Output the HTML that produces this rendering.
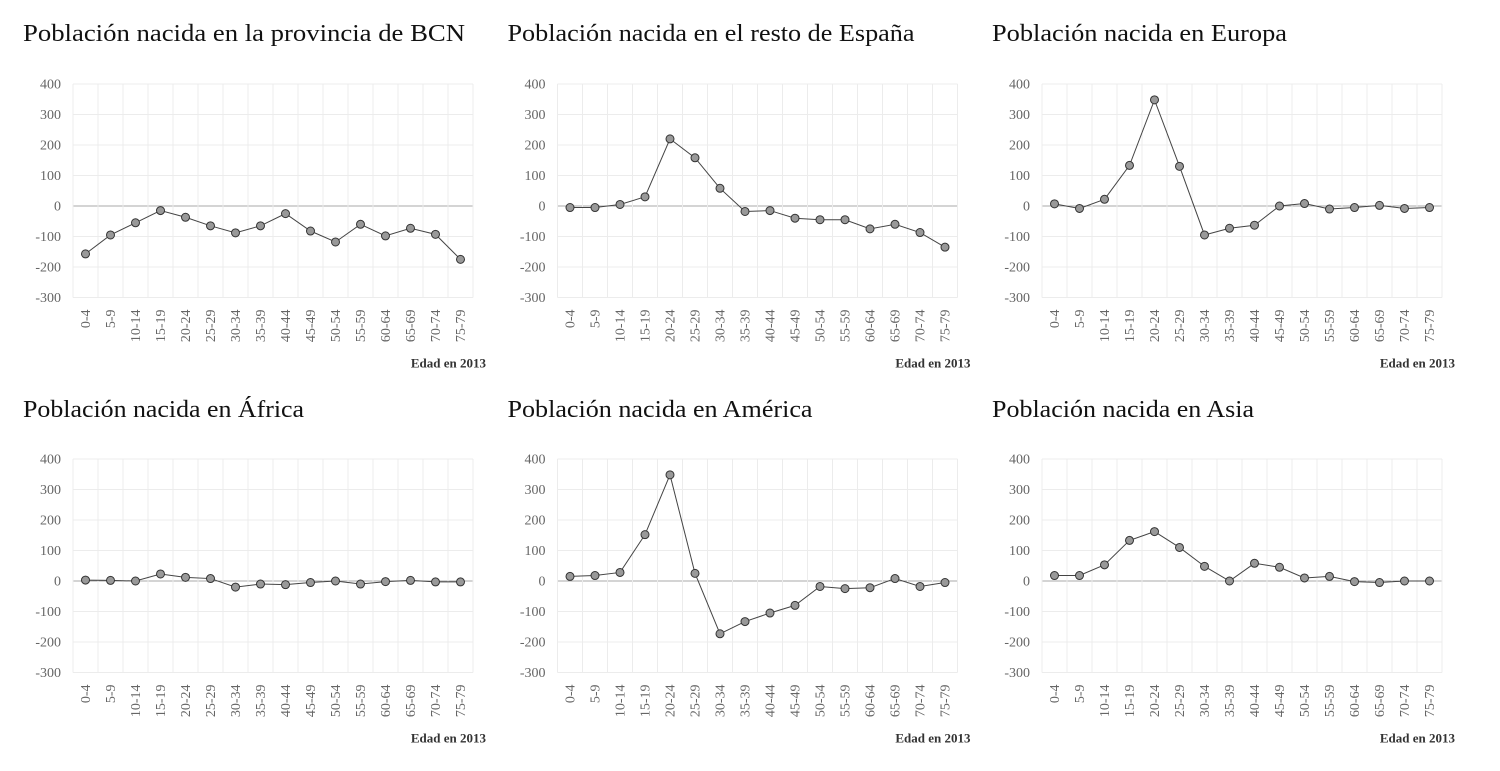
<!DOCTYPE html>
<html><head><meta charset="utf-8"><style>
html,body{margin:0;padding:0;background:#fff;}
svg{display:block;font-family:"Liberation Serif",serif;}
</style></head><body>
<svg id="c" width="1500" height="771"></svg>
<script>
const categories=["0-4","5-9","10-14","15-19","20-24","25-29","30-34","35-39","40-44","45-49","50-54","55-59","60-64","65-69","70-74","75-79"];
const yTicks=[400,300,200,100,0,-100,-200,-300];
const titles=["Población nacida en la provincia de BCN","Población nacida en el resto de España","Población nacida en Europa","Población nacida en África","Población nacida en América","Población nacida en Asia"];
const seriesBCN=[-157,-95,-55,-15,-37,-65,-88,-65,-25,-82,-118,-60,-98,-73,-93,-175];
const seriesEspana=[-5,-5,5,30,220,158,58,-18,-15,-40,-45,-45,-75,-60,-87,-135];
const seriesEuropa=[7,-8,22,133,348,130,-95,-73,-63,0,8,-10,-5,2,-8,-5];
const seriesAfrica=[3,2,0,23,12,8,-20,-10,-12,-5,0,-10,-2,2,-3,-3];
const seriesAmerica=[15,18,28,152,348,25,-173,-133,-105,-80,-18,-25,-22,8,-18,-5];
const seriesAsia=[18,18,53,133,162,110,48,0,58,45,10,15,-2,-5,0,0];
const allSeries=[seriesBCN,seriesEspana,seriesEuropa,seriesAfrica,seriesAmerica,seriesAsia];
const titleW=[442,407,295,281,305,262];
const NS="http://www.w3.org/2000/svg";
const svg=document.getElementById('c');
function mk(tag,attrs,parent){const e=document.createElementNS(NS,tag);for(const k in attrs)e.setAttribute(k,attrs[k]);(parent||svg).appendChild(e);return e;}
allSeries.forEach((vals,i)=>{
  const col=i%3,row=Math.floor(i/3);
  const left=73+col*484.5, top=row===0?84:459, bottom=top+213.5, right=left+400;
  const g=mk('g',{});
  
  
  const y=v=>top+(400-v)/700*(bottom-top);
  const bw=(right-left)/categories.length;
  const x=j=>left+bw*(j+0.5);
  const t=mk('text',{x:left-50,y:row===0?41:417,'font-size':24,fill:'#111',textLength:titleW[i],lengthAdjust:'spacingAndGlyphs'},g);
  t.textContent=titles[i];
  
  
  yTicks.forEach(v=>{
    const l=mk('line',{x1:left,x2:right,y1:y(v),y2:y(v),stroke:v===0?'#aaa':'#ececec','stroke-width':1},g);
    
    
    const tx=mk('text',{x:left-12,y:y(v)+4.5,'font-size':14,fill:'#666','text-anchor':'end'},g);
    tx.textContent=v;
    
    
  });
  for(let j=0;j<=categories.length;j++){
    const l=mk('line',{x1:left+bw*j,x2:left+bw*j,y1:top,y2:bottom,stroke:'#ececec','stroke-width':1},g);
    
    
  }
  categories.forEach((c,j)=>{
    const tx=mk('text',{x:0,y:0,'font-size':14,fill:'#666','text-anchor':'end',transform:`translate(${x(j)+4.5},${bottom+12}) rotate(-90)`},g);
    tx.textContent=c;
    
    
  });
  const xt=mk('text',{x:right+13,y:bottom+70,'font-size':13,fill:'#333','font-weight':'600','text-anchor':'end'},g);
  xt.textContent='Edad en 2013';
  
  
  const p=mk('polyline',{points:vals.map((v,j)=>x(j)+','+y(v)).join(' '),fill:'none',stroke:'#444','stroke-width':1},g);
  
  
  vals.forEach((v,j)=>{
    const c=mk('circle',{cx:x(j),cy:y(v),r:4,fill:'#999',stroke:'#333','stroke-width':1},g);
    
    
  });
});
</script>
</body></html>
